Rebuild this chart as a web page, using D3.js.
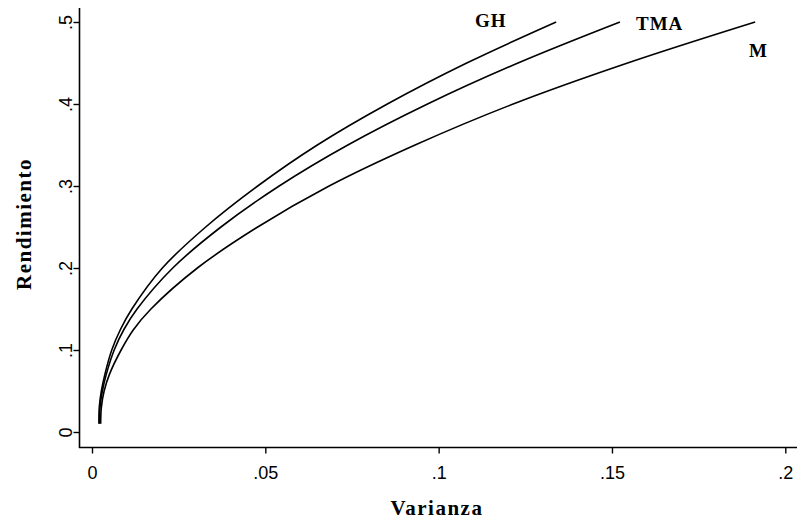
<!DOCTYPE html>
<html>
<head>
<meta charset="utf-8">
<script src="https://cdn.jsdelivr.net/npm/d3@7/dist/d3.min.js"></script>
<style>
  html, body { margin: 0; padding: 0; background: #fff; }
  svg { display: block; }
</style>
</head>
<body>
<svg id="chart" width="797" height="522"></svg>
<script>
// ---- data ----
const returns = [0.01, 0.03, 0.05, 0.07, 0.10, 0.125, 0.15, 0.20, 0.25, 0.30, 0.35, 0.40, 0.45, 0.50];
const varGH  = [0.0020, 0.0021, 0.0027, 0.0037, 0.0057, 0.0082, 0.0115, 0.0203, 0.0328, 0.0478, 0.0650, 0.0852, 0.1081, 0.1339];
const varTMA = [0.0022, 0.0023, 0.0030, 0.0041, 0.0064, 0.0092, 0.0130, 0.0233, 0.0372, 0.0540, 0.0738, 0.0968, 0.1229, 0.1523];
const varM   = [0.0025, 0.0027, 0.0035, 0.0050, 0.0084, 0.0120, 0.0170, 0.0304, 0.0478, 0.0684, 0.0932, 0.1215, 0.1545, 0.1913];
const seriesNames = ["GH", "TMA", "M"];
const xTicks = [0, 0.05, 0.1, 0.15, 0.2];
const xTickLabels = ["0", ".05", ".1", ".15", ".2"];
const yTicks = [0, 0.1, 0.2, 0.3, 0.4, 0.5];
const yTickLabels = ["0", ".1", ".2", ".3", ".4", ".5"];
const xTitle = "Varianza";
const yTitle = "Rendimiento";

const svg = d3.select("#chart");
const x = d3.scaleLinear().domain([0, 0.2]).range([92, 785.3]);
const y = d3.scaleLinear().domain([0, 0.5]).range([432, 22]);

const axisX = 79.5, axisY = 447.5;
const tickFont = "'Liberation Sans', Arial, Helvetica, sans-serif";
const serif = "'Liberation Serif', 'Times New Roman', Times, serif";

// axis lines
svg.append("line").attr("x1", axisX).attr("x2", axisX).attr("y1", 8).attr("y2", axisY + 0.5)
  .attr("stroke", "#000").attr("stroke-width", 1.6);
svg.append("line").attr("x1", axisX - 0.5).attr("x2", 797).attr("y1", axisY).attr("y2", axisY)
  .attr("stroke", "#000").attr("stroke-width", 1.6);

// y axis
const gy = svg.append("g").attr("transform", `translate(${axisX},0)`)
  .call(d3.axisLeft(y).tickValues(yTicks).tickSize(6).tickFormat((d, i) => yTickLabels[i]));
gy.select(".domain").remove();
gy.selectAll(".tick line").attr("stroke", "#000").attr("stroke-width", 1.4);
gy.selectAll(".tick text")
  .attr("x", null).attr("dy", null)
  .attr("transform", "translate(-8,0) rotate(-90)")
  .attr("text-anchor", "middle")
  .style("font-family", tickFont).style("font-size", "18px").attr("fill", "#000");

// x axis
const gx = svg.append("g").attr("transform", `translate(0,${axisY})`)
  .call(d3.axisBottom(x).tickValues(xTicks).tickSize(6).tickFormat((d, i) => xTickLabels[i]));
gx.select(".domain").remove();
gx.selectAll(".tick line").attr("stroke", "#000").attr("stroke-width", 1.4);
gx.selectAll(".tick text")
  .attr("y", 31).attr("dy", null)
  .style("font-family", tickFont).style("font-size", "18px").attr("fill", "#000");

// axis titles
svg.append("text").attr("x", 437).attr("y", 515).attr("text-anchor", "middle")
  .style("font-family", serif).style("font-weight", "bold").style("font-size", "21px")
  .style("letter-spacing", "1.5px").text(xTitle);
svg.append("text").attr("transform", "translate(31,224) rotate(-90)").attr("text-anchor", "middle")
  .style("font-family", serif).style("font-weight", "bold").style("font-size", "21px")
  .style("letter-spacing", "1.5px").text(yTitle);

// frontier curves
const allVar = [varGH, varTMA, varM];
const line = d3.line().x(d => x(d[0])).y(d => y(d[1])).curve(d3.curveCatmullRom.alpha(0.5));
allVar.forEach((vs, k) => {
  const pts = returns.map((r, i) => [vs[i], r]);
  svg.append("path").datum(pts).attr("d", line)
    .attr("fill", "none").attr("stroke", "#000").attr("stroke-width", 1.6);
});

// curve labels
const labelPos = [
  { name: seriesNames[0], x: 475, y: 27 },
  { name: seriesNames[1], x: 636, y: 30 },
  { name: seriesNames[2], x: 749, y: 57 }
];
svg.selectAll(".lbl").data(labelPos).enter().append("text")
  .attr("x", d => d.x).attr("y", d => d.y)
  .style("font-family", serif).style("font-weight", "bold").style("font-size", "19px")
  .style("letter-spacing", "1px")
  .text(d => d.name);
</script>
</body>
</html>
